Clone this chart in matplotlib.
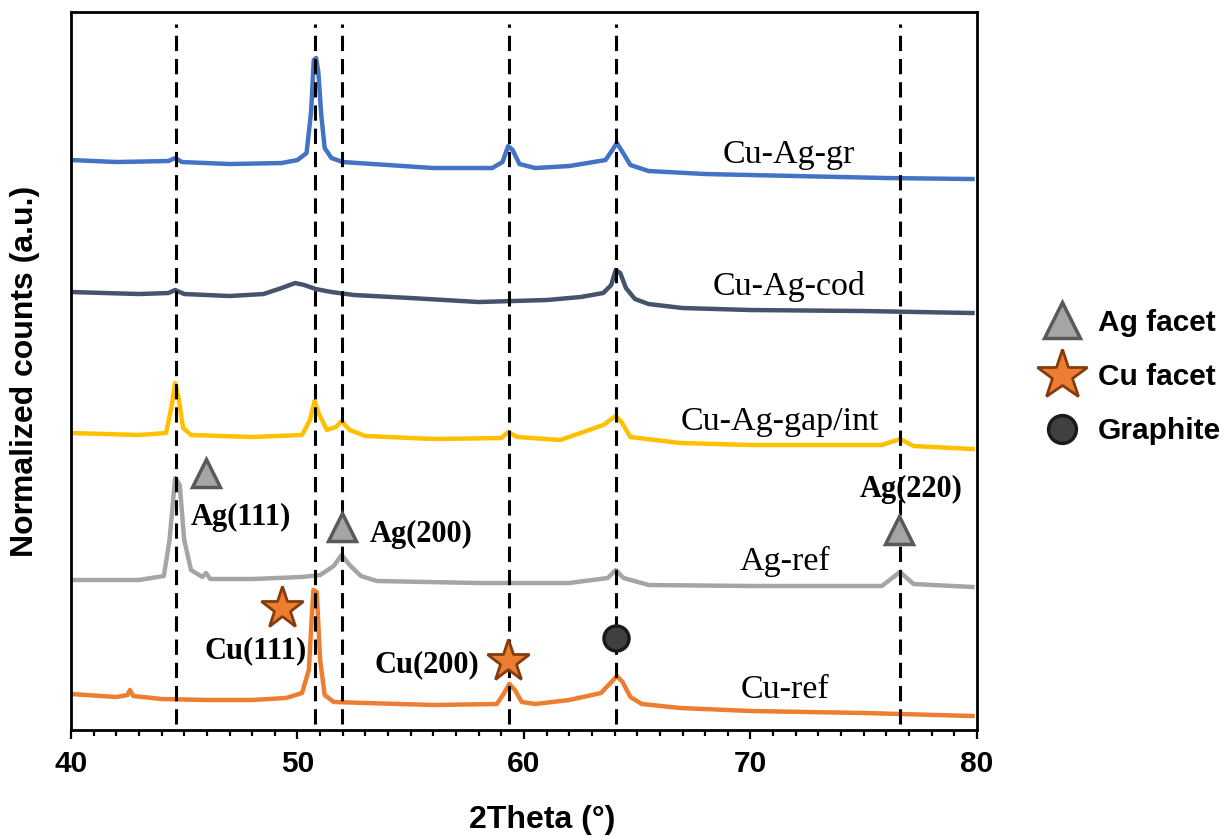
import matplotlib
matplotlib.use('Agg')
import matplotlib.pyplot as plt
from matplotlib.lines import Line2D
from matplotlib.ticker import MultipleLocator

# XRD patterns, stacked with a fixed offset (y in arbitrary units)
cu_ag_gr_x = [40.0, 42.0, 44.3, 44.6, 44.9, 47.0, 49.3, 50.0, 50.4, 50.6, 50.72, 50.82, 50.92, 51.05, 51.2,
              51.5, 52.0, 54.0, 56.0, 58.6, 59.05, 59.3, 59.5, 59.8, 60.5, 62.0, 63.6, 63.9, 64.1, 64.35,
              64.7, 65.5, 68.0, 72.0, 76.0, 79.8]
cu_ag_gr_y = [570, 568, 569, 572, 568, 566, 567, 570, 577, 618, 670, 672, 658, 615, 582,
              572, 568, 565, 562, 562, 568, 584, 580, 566, 562, 564, 570, 580, 587, 578,
              565, 559, 556, 554, 552, 551]

cu_ag_cod_x = [40.0, 43.0, 44.3, 44.6, 45.0, 47.0, 48.5, 49.3, 49.9, 50.3, 50.8, 51.5, 52.5, 55.0, 58.0,
               61.0, 62.5, 63.5, 63.85, 64.05, 64.25, 64.5, 64.9, 65.5, 67.0, 70.0, 75.0, 79.8]
cu_ag_cod_y = [438, 436, 437, 440, 436, 434, 436, 442, 447, 445, 441, 438, 435, 432, 428,
               430, 433, 437, 445, 460, 457, 442, 431, 426, 422, 420, 419, 417]

cu_ag_gap_x = [40.0, 43.0, 44.2, 44.45, 44.6, 44.75, 44.95, 45.3, 48.0, 50.2, 50.55, 50.75, 50.95, 51.3,
               51.7, 51.95, 52.3, 53.0, 56.0, 59.0, 59.3, 59.7, 61.6, 63.5, 64.05, 64.3, 64.7, 66.9,
               70.0, 75.8, 76.6, 77.2, 79.8]
cu_ag_gap_y = [297, 295, 297, 325, 347, 332, 302, 295, 293, 295, 310, 329, 316, 300,
               303, 309, 300, 294, 291, 292, 298, 293, 290, 305, 314, 308, 293, 287,
               285, 285, 291, 284, 281]

ag_ref_x = [40.0, 43.0, 44.1, 44.35, 44.6, 44.8, 45.0, 45.3, 45.8, 45.96, 46.15, 48.0, 50.2, 51.0, 51.6,
            51.95, 52.3, 52.8, 53.5, 58.0, 62.0, 63.7, 64.05, 64.4, 65.5, 70.0, 75.8, 76.6, 77.2, 79.8]
ag_ref_y = [150, 150, 154, 190, 252, 245, 190, 160, 153, 157, 151, 151, 153, 155, 164,
            175, 165, 154, 149, 147, 147, 152, 160, 152, 145, 144, 144, 158, 146, 143]

cu_ref_x = [40.0, 42.0, 42.5, 42.6, 42.75, 44.0, 46.0, 48.0, 49.5, 50.2, 50.5, 50.7, 50.85, 51.0, 51.2,
            51.6, 53.0, 56.0, 58.8, 59.1, 59.35, 59.6, 59.9, 60.5, 62.0, 63.4, 63.9, 64.1, 64.35, 64.7,
            65.2, 66.9, 70.0, 75.0, 79.8]
cu_ref_y = [36, 33, 35, 40, 34, 31, 30, 30, 32, 37, 60, 140, 138, 70, 35,
            28, 27, 25, 26, 36, 46, 40, 28, 26, 30, 37, 49, 54, 48, 33,
            26, 22, 19, 17, 14]

# reference peak positions (2theta)
peak_lines = [44.62, 50.77, 51.98, 59.33, 64.05, 76.6]

# sample labels
sample_names = ['Cu-Ag-gr', 'Cu-Ag-cod', 'Cu-Ag-gap/int', 'Ag-ref', 'Cu-ref']
sample_label_x = [71.7, 71.7, 71.3, 71.5, 71.5]
sample_label_y = [567, 435, 300, 160, 32]

# facet markers and labels
ag_mark_x = [45.96, 51.96, 76.56]
ag_mark_y = [257, 203, 200]
cu_mark_x = [49.32, 59.29]
cu_mark_y = [122, 69]
gr_mark_x = [64.06]
gr_mark_y = [92]

facet_names = ['Ag(111)', 'Ag(200)', 'Ag(220)', 'Cu(111)', 'Cu(200)']
facet_x = [47.49, 55.47, 77.11, 48.17, 55.70]
facet_y = [205, 188, 233, 72, 58]

sans = 'Liberation Sans'
serif = 'Liberation Serif'

fig = plt.figure(figsize=(12.26, 8.36), dpi=100)
ax = fig.add_axes([0.0579, 0.1268, 0.739, 0.8588])

traces = [
    (cu_ag_gr_x, cu_ag_gr_y, '#4472C4'),
    (cu_ag_cod_x, cu_ag_cod_y, '#44546A'),
    (cu_ag_gap_x, cu_ag_gap_y, '#FFC000'),
    (ag_ref_x, ag_ref_y, '#A5A5A5'),
    (cu_ref_x, cu_ref_y, '#ED7D31'),
]
for xs, ys, col in traces:
    ax.plot(xs, ys, color=col, lw=3.2, solid_joinstyle='round', zorder=2)

for x0 in peak_lines:
    ax.axvline(x0, ymin=0.008, ymax=0.984, color='black', lw=2.2,
               ls=(0, (5, 2.6)), zorder=3)

for name, tx, ty in zip(sample_names, sample_label_x, sample_label_y):
    ax.text(tx, ty, name, family=serif, fontsize=24.5, ha='center', va='baseline', zorder=4)

for name, tx, ty in zip(facet_names, facet_x, facet_y):
    ax.text(tx, ty, name, family=serif, fontsize=22, fontweight='bold',
            ha='center', va='baseline', zorder=4)

ax.plot(ag_mark_x, ag_mark_y, ls='none', marker='^', ms=19.5, mfc='#A5A5A5',
        mec='#595959', mew=2.5, zorder=5)
ax.plot(cu_mark_x, cu_mark_y, ls='none', marker='*', ms=32, mfc='#ED7D31',
        mec='#843C0C', mew=2, zorder=5)
ax.plot(gr_mark_x, gr_mark_y, ls='none', marker='o', ms=18, mfc='#404040',
        mec='#1A1A1A', mew=2.5, zorder=5)

ax.set_xlim(40, 80)
ax.set_ylim(0, 718)
ax.set_yticks([])
ax.xaxis.set_major_locator(MultipleLocator(10))
ax.xaxis.set_minor_locator(MultipleLocator(1))
ax.tick_params(axis='x', which='major', direction='out', length=6.5, width=1.6, pad=8)
ax.tick_params(axis='x', which='minor', direction='out', length=4, width=1.6)
for lab in ax.get_xticklabels():
    lab.set_family(sans)
    lab.set_fontweight('bold')
    lab.set_fontsize(21.5)
for sp in ax.spines.values():
    sp.set_linewidth(2)

ax.set_xlabel('2Theta (°)', family=sans, fontweight='bold', fontsize=23)
ax.xaxis.set_label_coords(0.52, -0.105)
ax.set_ylabel('Normalized counts (a.u.)', family=sans, fontweight='bold', fontsize=23)
ax.yaxis.set_label_coords(-0.034, 0.5)

handles = [
    Line2D([0], [0], ls='none', marker='^', ms=26, mfc='#A5A5A5', mec='#595959', mew=2.5),
    Line2D([0], [0], ls='none', marker='*', ms=38, mfc='#ED7D31', mec='#843C0C', mew=2),
    Line2D([0], [0], ls='none', marker='o', ms=20, mfc='#404040', mec='#1A1A1A', mew=2.5),
]
fig.legend(handles, ['Ag facet', 'Cu facet', 'Graphite'], loc='center left',
           bbox_to_anchor=(0.8465, 0.549), frameon=False, numpoints=1,
           handlelength=1.6, handletextpad=0.4, labelspacing=0.88, borderpad=0,
           borderaxespad=0, prop={'family': sans, 'weight': 'bold', 'size': 21.5})

fig.savefig('out.png', dpi=100)
